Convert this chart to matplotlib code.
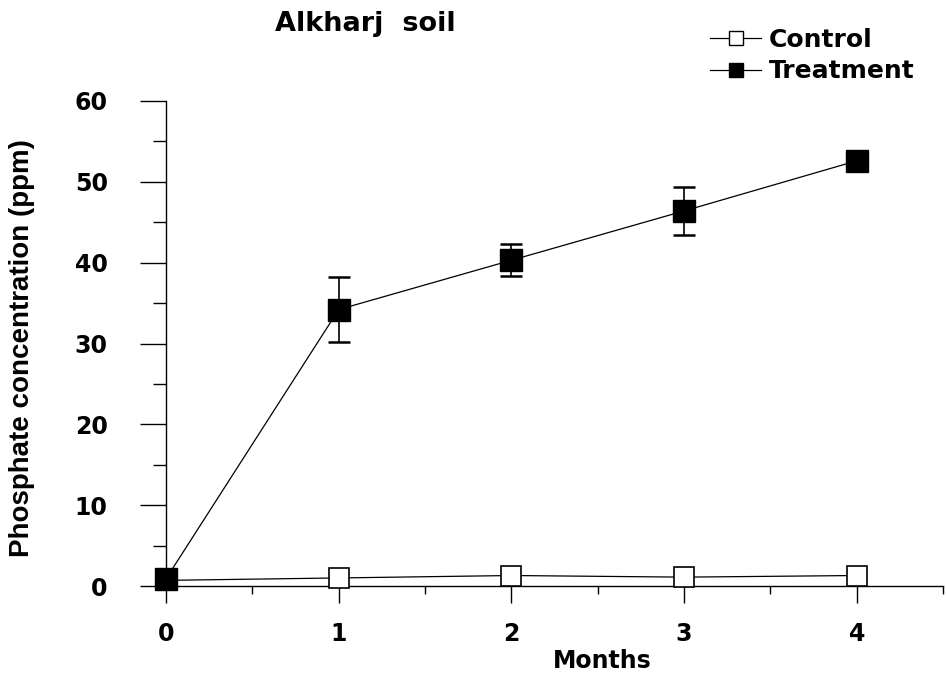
import matplotlib
matplotlib.use("Agg")
import matplotlib.pyplot as plt
from matplotlib.ticker import MultipleLocator
from matplotlib.lines import Line2D

months = [0, 1, 2, 3, 4]
control = [0.7, 1.0, 1.3, 1.1, 1.3]
treatment = [0.9, 34.2, 40.3, 46.4, 52.6]
treatment_err = [0.0, 4.0, 2.0, 3.0, 0.0]
y_ticks = [0, 10, 20, 30, 40, 50, 60]
x_ticks = [0, 1, 2, 3, 4]

plt.rcParams['font.family'] = ['DejaVu Sans']
plt.rcParams['font.weight'] = 'bold'

fig = plt.figure(figsize=(9.46, 6.76), dpi=100)
ax = fig.add_axes([0.1755, 0.1331, 0.8215, 0.7175])

ax.plot(months, control, color='black', lw=0.9, marker='s', ms=15,
        mfc='white', mec='black', mew=1.2, clip_on=False, zorder=3)
ax.errorbar(months, treatment, yerr=treatment_err, color='black', lw=0.9,
            marker='s', ms=16, mfc='black', mec='black', capsize=8,
            elinewidth=1.2, capthick=1.8, clip_on=False, zorder=4)

ax.set_xlim(0, 4.5)
ax.set_ylim(0, 60)
ax.set_xticks(x_ticks)
ax.set_yticks(y_ticks)
ax.xaxis.set_minor_locator(MultipleLocator(0.5))
ax.yaxis.set_minor_locator(MultipleLocator(5))
ax.tick_params(axis='y', which='major', direction='out', length=19, width=1.0,
               labelsize=17, pad=23)
ax.tick_params(axis='y', which='minor', direction='out', length=9.5, width=1.0)
ax.tick_params(axis='x', which='major', direction='out', length=12, width=1.0,
               labelsize=17, pad=14)
ax.tick_params(axis='x', which='minor', direction='out', length=6, width=1.0)
for lab in ax.get_xticklabels() + ax.get_yticklabels():
    lab.set_fontweight('bold')

ax.spines['top'].set_visible(False)
ax.spines['right'].set_visible(False)
ax.spines['left'].set_linewidth(1.0)
ax.spines['bottom'].set_linewidth(1.0)

fig.text(602 / 946, 1 - 661 / 676, 'Months', fontsize=17, fontweight='bold',
         ha='center', va='center')
fig.text(0.023, 0.485, 'Phosphate concentration (ppm)', fontsize=20,
         fontweight='bold', rotation=90, ha='center', va='center',
         family=['Liberation Sans Narrow', 'Liberation Sans', 'DejaVu Sans'])

fig.text(0.291, 0.965, 'Alkharj  soil', fontsize=19.5, fontweight='bold',
         ha='left', va='center')

handles = [
    Line2D([], [], color='black', lw=0.9, marker='s', ms=10, mfc='white',
           mec='black', mew=1.0),
    Line2D([], [], color='black', lw=0.9, marker='s', ms=10, mfc='black',
           mec='black'),
]
leg = fig.legend(handles, ['Control', 'Treatment'], loc='center left',
                 bbox_to_anchor=(710 / 946, 1 - 55.5 / 676), frameon=False,
                 fontsize=18, handlelength=2.05, handletextpad=0.32,
                 labelspacing=0.3, borderpad=0, borderaxespad=0)
for t in leg.get_texts():
    t.set_fontweight('bold')

fig.savefig('out.png', dpi=100)
